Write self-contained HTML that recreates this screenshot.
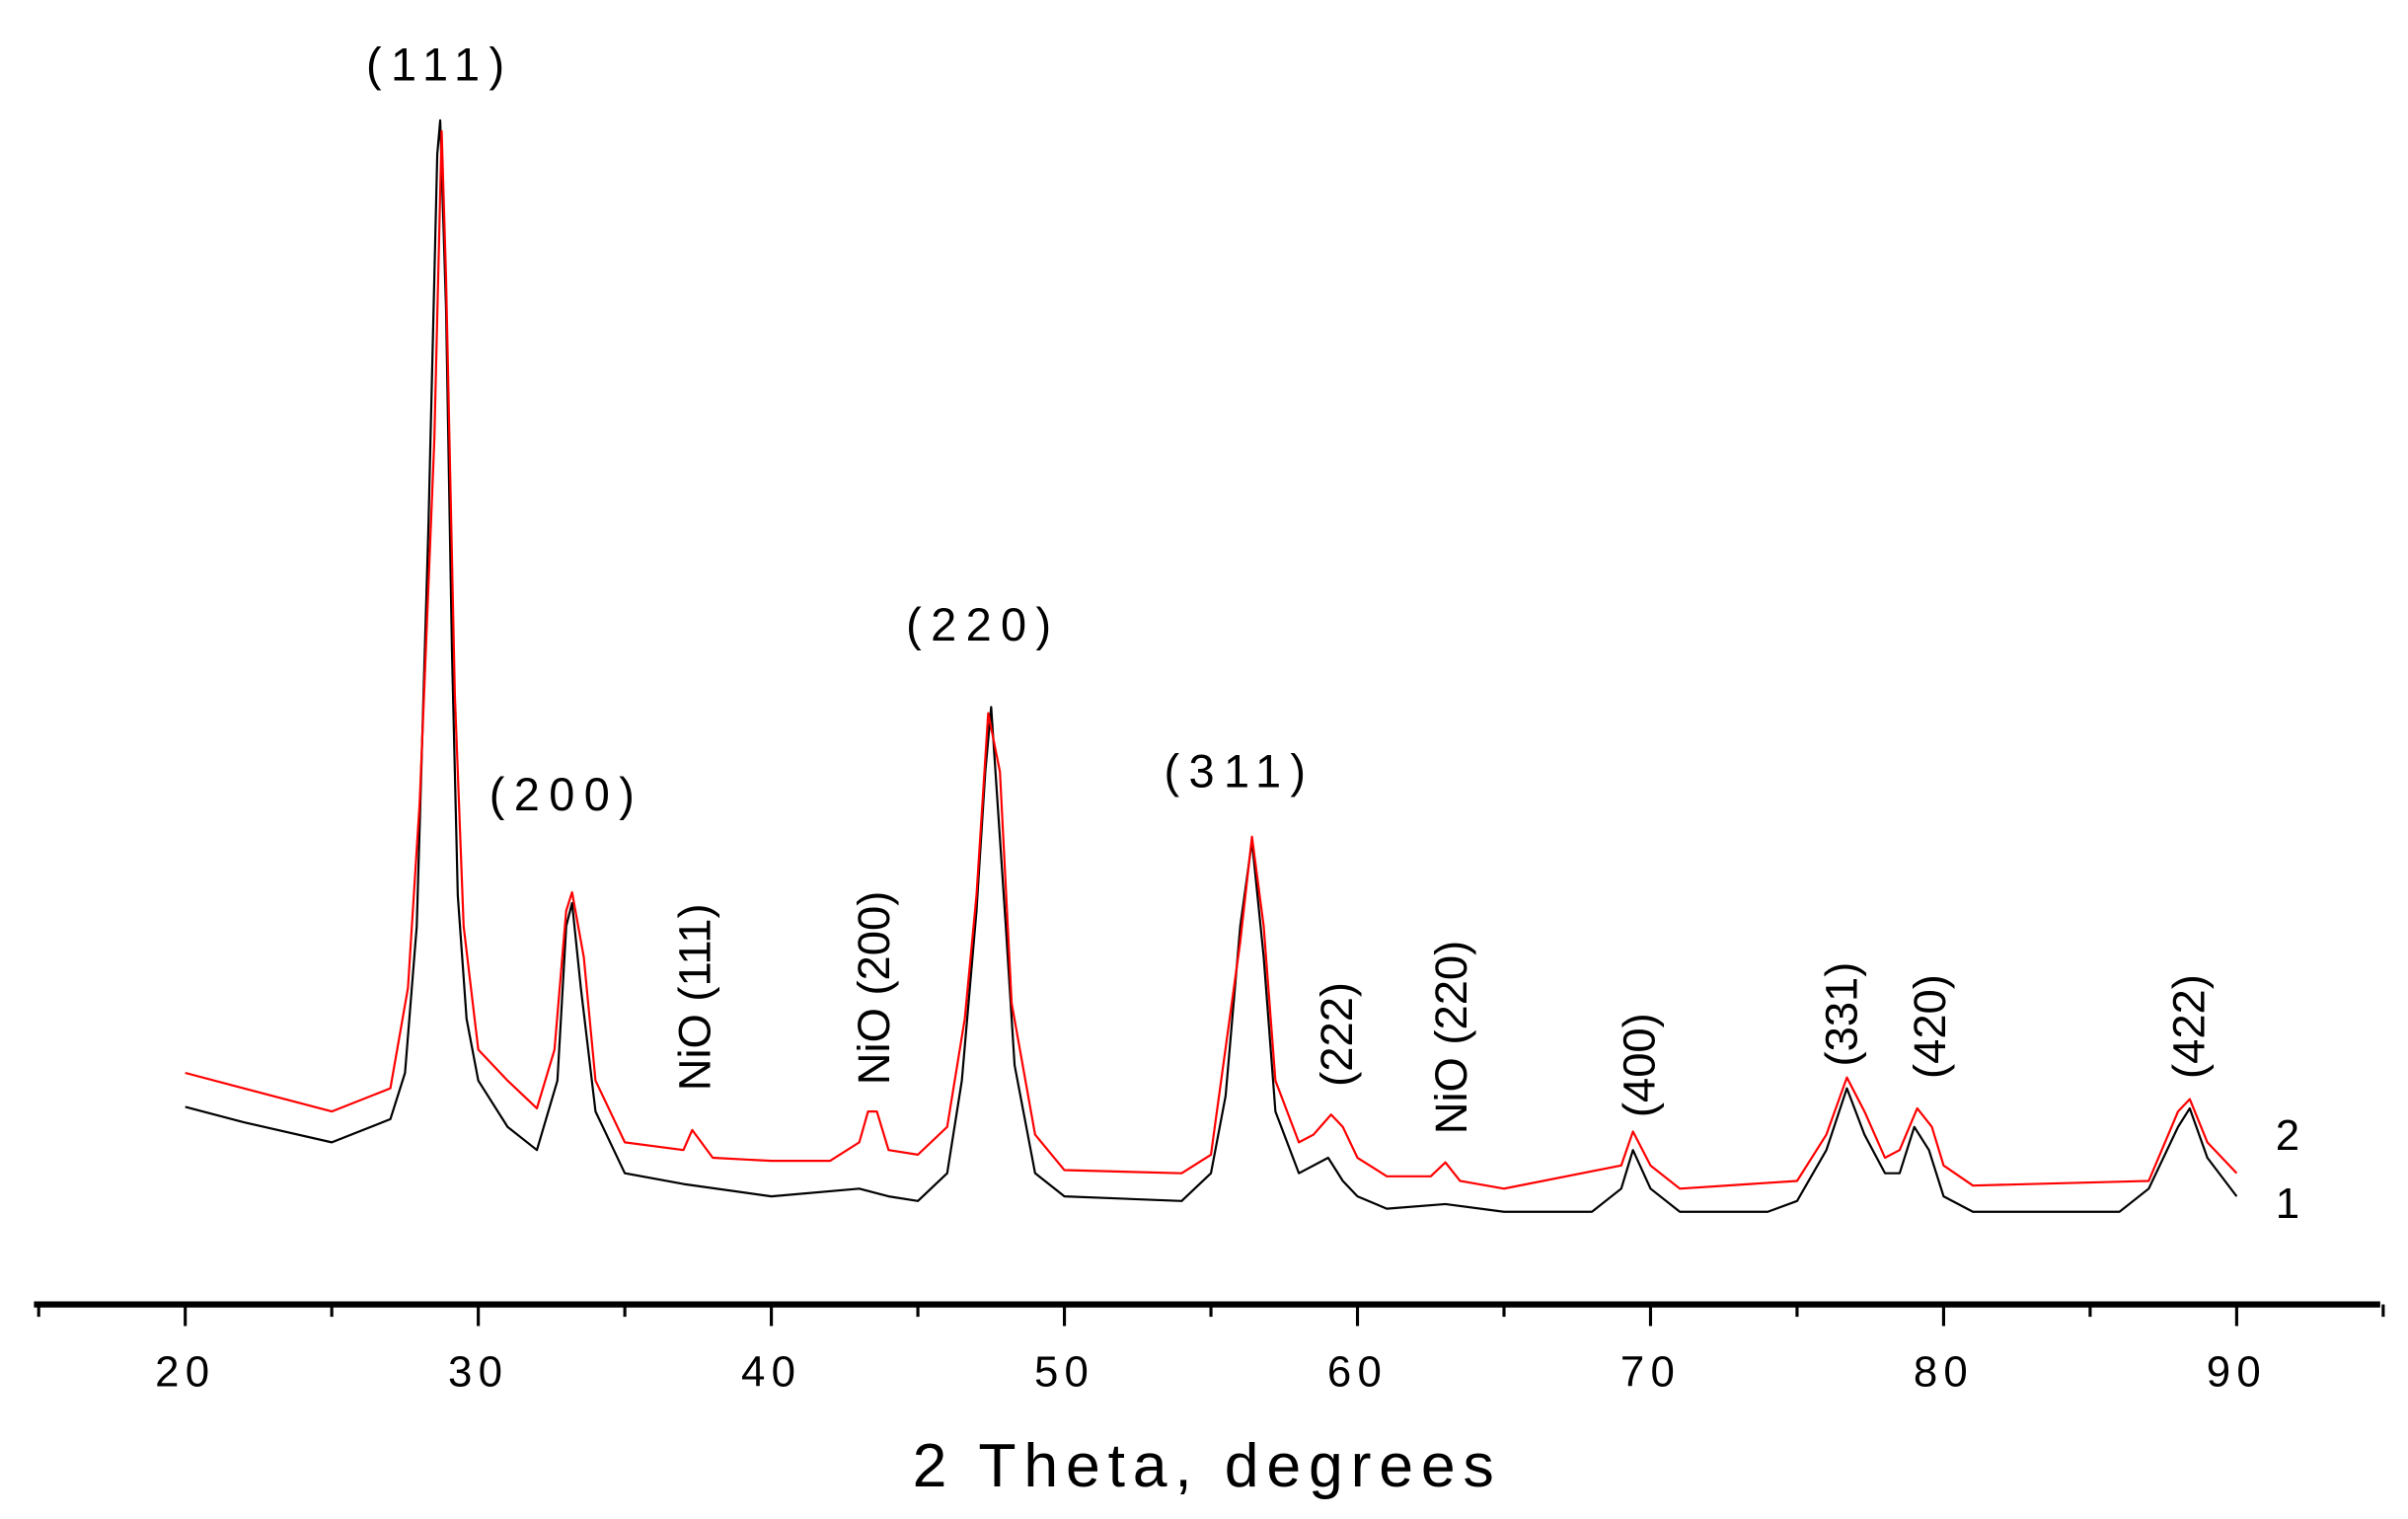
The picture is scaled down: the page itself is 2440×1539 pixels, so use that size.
<!DOCTYPE html>
<html><head><meta charset="utf-8"><style>
html,body{margin:0;padding:0;background:#fff}
svg{display:block}
text{font-family:"Liberation Sans",Arial,sans-serif;fill:#000}
</style></head><body>
<svg width="2440" height="1539" viewBox="0 0 1560 984" preserveAspectRatio="none" xmlns="http://www.w3.org/2000/svg">
<g id="axis"></g>
<g id="series"></g>
<g id="labels"></g>
<text x="782" y="963" font-size="40" text-anchor="middle" letter-spacing="5">2 Theta, degrees</text>
<text x="1482" y="745" font-size="28" text-anchor="middle">2</text>
<text x="1482" y="789" font-size="28" text-anchor="middle">1</text>
</svg>
<script>
const xTicks=[20,30,40,50,60,70,80,90];
const xTickLabels=["20","30","40","50","60","70","80","90"];
const blackX=[20,22,25,27,27.5,27.9,28.3,28.6,28.7,28.9,29.1,29.3,29.6,30,31,32,32.7,33,33.2,33.5,34,35,37,40,43,44,45,46,46.5,47,47.3,47.5,48,48.3,49,50,54,55,55.5,56,56.4,56.8,57.2,58,59,59.5,60,61,63,65,68,69,69.4,70,71,74,75,76,76.7,77.3,78,78.5,79,79.5,80,81,86,87,88,88.4,89,90];
const blackY=[128,118,105,120,150,245,505,745,767,645,425,265,185,145,115,100,145,245,260,205,125,85,78,70,75,70,67,85,145,255,345,387,245,155,85,70,67,85,135,245,300,225,125,85,95,80,70,62,65,60,60,75,100,75,60,60,67,100,140,110,85,85,115,100,70,60,60,75,115,127,95,70];
const redX=[20,22,25,27,27.6,28,28.5,28.75,28.9,29.2,29.5,30,31,32,32.6,33,33.2,33.6,34,35,37,37.3,38,40,42,43,43.3,43.6,44,45,46,46.6,47,47.4,47.8,48.2,49,50,54,55,56,56.4,56.8,57.2,58,58.5,59.1,59.5,60,61,62.5,63,63.5,65,69,69.4,70,71,75,76,76.7,77.3,78,78.5,79.1,79.6,80,81,87,88,88.4,89,90];
const redY=[150,140,125,140,205,325,560,760,665,395,245,165,145,127,165,255,267,225,145,105,100,113,95,93,93,105,125,125,100,97,115,185,265,383,345,195,110,87,85,97,235,303,245,145,105,110,123,115,95,83,83,92,80,75,90,112,90,75,80,110,147,125,95,100,127,115,90,77,80,125,133,105,85];
const peakLabels=["(111)","(200)","(220)","(311)"];
const peakLabelX=[285,367,637,803];
const peakLabelY=[52,525,415,510];
const rotLabels=["NiO (111)","NiO (200)","(222)","NiO (220)","(400)","(331)","(420)","(422)"];
const rotLabelX=[450,566,866,940,1062,1193,1250,1418];
const rotLabelY=[646,640,670,672,690,657,665,665];

const NS="http://www.w3.org/2000/svg";
const X0=20,PX0=120,PXPER=(1449-120)/70;
const xs=d=>PX0+(d-X0)*PXPER;
const ys=v=>845-v;
function mk(tag,attrs,parent){const e=document.createElementNS(NS,tag);for(const k in attrs)e.setAttribute(k,attrs[k]);parent.appendChild(e);return e;}
const axis=document.getElementById('axis');
const al=mk('line',{x1:22,x2:1542,y1:845,y2:845,stroke:'#000','stroke-width':4},axis);


for(let d=15;d<=95;d+=5){
  const major=d%10===0;
  const t=mk('line',{x1:xs(d),x2:xs(d),y1:845,y2:major?859:853,stroke:'#000','stroke-width':2},axis);
  
  
}
xTicks.forEach((d,i)=>{
  const t=mk('text',{x:xs(d),y:898,'font-size':28,'text-anchor':'middle','letter-spacing':4},axis);
  t.textContent=xTickLabels[i];
  
  
});
const series=document.getElementById('series');
function drawLine(X,Y,color,name){
  let p='M'+xs(X[0])+','+ys(Y[0]);
  for(let i=1;i<X.length;i++){p+=' L'+xs(X[i])+','+ys(Y[i]);}
  const e=mk('path',{d:p,fill:'none',stroke:color,'stroke-width':1.4,'stroke-linejoin':'round'},series);
  
  
}
drawLine(blackX,blackY,'#000','series-1-black');
drawLine(redX,redY,'#f00','series-2-red');
const labels=document.getElementById('labels');
peakLabels.forEach((s,i)=>{
  const t=mk('text',{x:peakLabelX[i],y:peakLabelY[i],'font-size':30,'text-anchor':'middle','letter-spacing':6},labels);
  t.textContent=s;
  
  
});
rotLabels.forEach((s,i)=>{
  const t=mk('text',{x:0,y:0,'font-size':29,'text-anchor':'middle',transform:`translate(${rotLabelX[i]+10},${rotLabelY[i]}) rotate(-90)`},labels);
  t.textContent=s;
  
  
});
</script>
</body></html>
